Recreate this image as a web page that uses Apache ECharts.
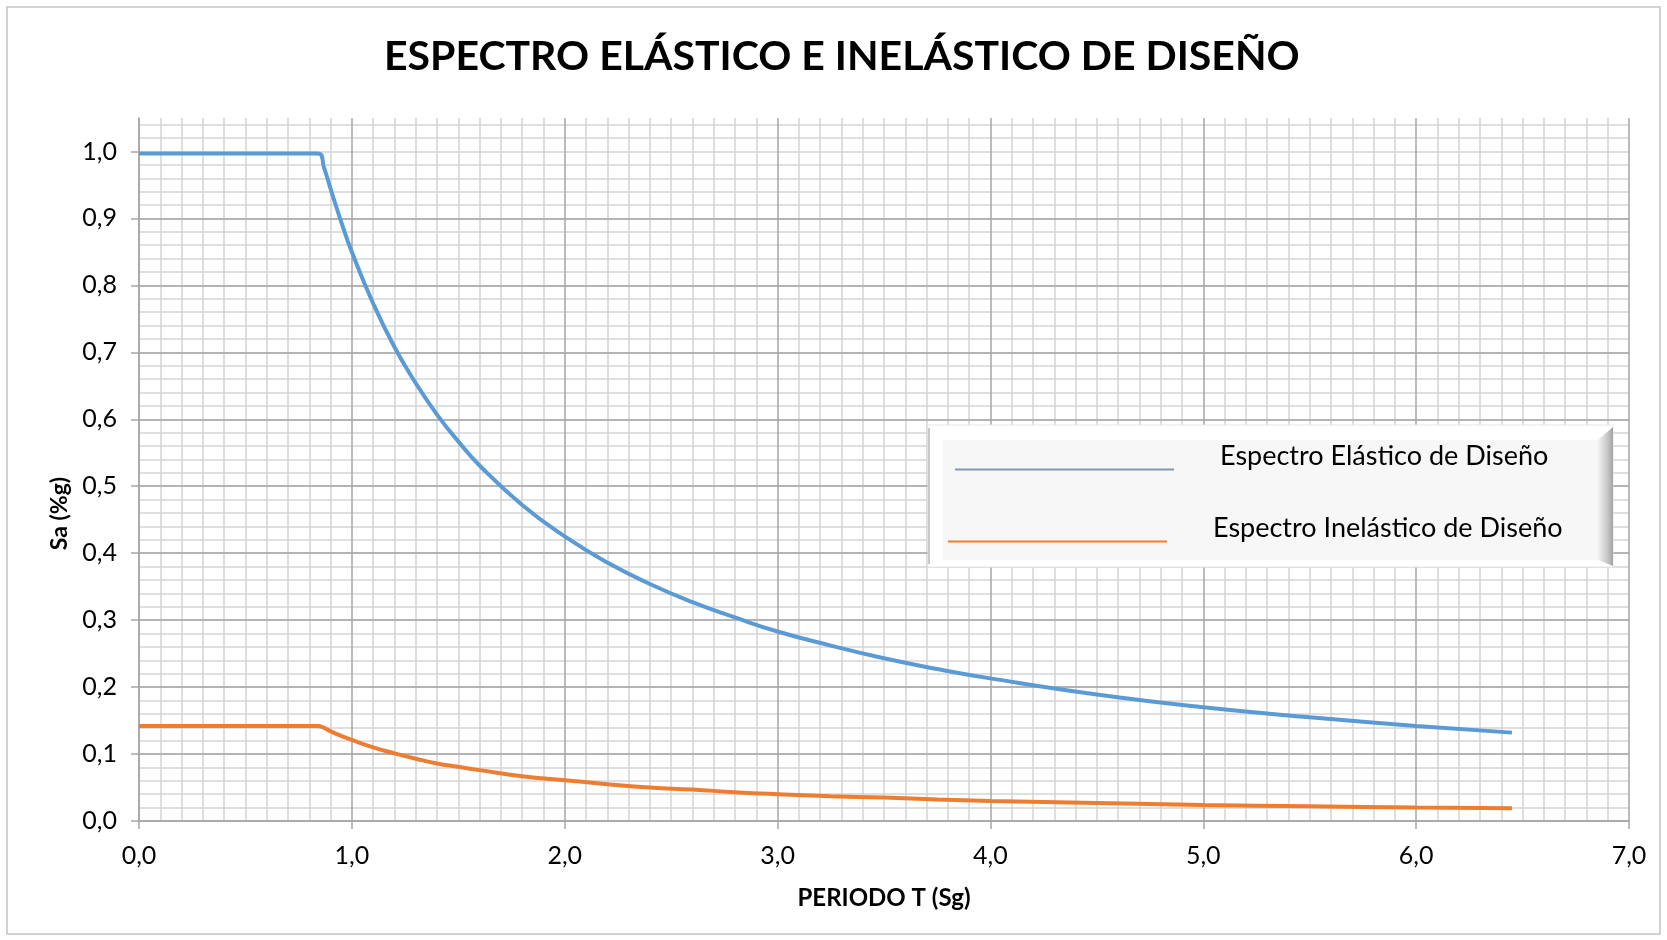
<!DOCTYPE html>
<html>
<head>
<meta charset="utf-8">
<title>Espectro elástico e inelástico de diseño</title>
<script src="https://cdn.jsdelivr.net/npm/echarts@6/dist/echarts.min.js"></script>
<style>
  html, body { margin: 0; padding: 0; background: #fff; }
  #chart { width: 1667px; height: 940px; }
</style>
</head>
<body>
<div id="chart"></div>
<script>
// valores: periodo T (s) y Sa (g)
var periodoT     = [0,     0.5,   0.84,  0.87,  0.9,   0.95,  1.0,   1.1,   1.2,   1.3,   1.4,   1.5,   1.6,   1.8,   2.0,   2.2,   2.4,   2.6,   2.8,   3.0,   3.25,  3.5,   3.75,  4.0,   4.5,   5.0,   5.5,   6.0,   6.45];
var saElastico   = [0.997, 0.997, 0.997, 0.975, 0.944, 0.895, 0.850, 0.773, 0.708, 0.654, 0.607, 0.567, 0.531, 0.472, 0.425, 0.386, 0.354, 0.327, 0.304, 0.283, 0.262, 0.243, 0.227, 0.213, 0.189, 0.170, 0.155, 0.142, 0.132];
var saInelastico = [0.142, 0.142, 0.142, 0.139, 0.134, 0.127, 0.121, 0.110, 0.101, 0.093, 0.086, 0.081, 0.076, 0.067, 0.061, 0.055, 0.050, 0.047, 0.043, 0.040, 0.037, 0.035, 0.032, 0.030, 0.027, 0.024, 0.022, 0.020, 0.019];

var xTicks = [0, 1, 2, 3, 4, 5, 6, 7];
var yTicks = [0, 0.1, 0.2, 0.3, 0.4, 0.5, 0.6, 0.7, 0.8, 0.9, 1.0];

var titulo = 'ESPECTRO ELÁSTICO E INELÁSTICO DE DISEÑO';
var nombreX = 'PERIODO T (Sg)';
var nombreY = 'Sa (%g)';
var nombres = ['Espectro Elástico de Diseño', 'Espectro Inelástico de Diseño'];

var fuente = 'Lato, "Open Sans", sans-serif';
var grisMayor = '#a6a6a6';
var grisMenor = '#d4d4d4';

function coma(v) {
  return v.toFixed(1).replace('.', ',');
}
function pares(ys) {
  return periodoT.map(function (t, i) { return [t, ys[i]]; });
}
// el texto de la leyenda va un poco por encima de su linea
function textoLeyenda(name) {
  return '{a|' + name + '}\n{b| }';
}
var richLeyenda = {
  a: { fontFamily: fuente, fontSize: 27, color: '#000', padding: [0, 0, 0, 41] },
  b: { fontSize: 2, height: 26 }
};

var chart = echarts.init(document.getElementById('chart'));
chart.setOption({
  animation: false,
  backgroundColor: '#fff',
  title: {
    text: titulo,
    left: 379,
    top: 31,
    textStyle: { fontFamily: fuente, fontSize: 41, fontWeight: 'bold', color: '#000' }
  },
  grid: { left: 139, right: 38, top: 118, bottom: 119 },
  legend: [
    {
      data: [{ name: nombres[0], icon: 'rect', itemStyle: { color: '#8497b0' } }],
      left: 955, top: 443, padding: 0, z: 10,
      itemWidth: 219, itemHeight: 2,
      formatter: textoLeyenda,
      textStyle: { rich: richLeyenda }
    },
    {
      data: [{ name: nombres[1], icon: 'rect', itemStyle: { color: '#ed7d31' } }],
      left: 948, top: 515, padding: 0, z: 10,
      itemWidth: 219, itemHeight: 2,
      formatter: textoLeyenda,
      textStyle: { rich: richLeyenda }
    }
  ],
  xAxis: {
    type: 'value',
    min: 0, max: 7, interval: 1,
    name: nombreX,
    nameLocation: 'middle',
    nameGap: 65,
    nameTextStyle: { fontFamily: fuente, fontSize: 24, fontWeight: 'bold', color: '#000' },
    z: 1,
    axisLine: { show: true, lineStyle: { color: grisMayor, width: 1.5 } },
    axisTick: { show: true, length: 8, customValues: xTicks, lineStyle: { color: grisMayor, width: 1.5 } },
    axisLabel: { customValues: xTicks, formatter: coma, margin: 22, fontFamily: fuente, fontSize: 25, color: '#000' },
    splitLine: { show: true, lineStyle: { color: grisMayor, width: 1.5 } },
    minorTick: { show: false, splitNumber: 10 },
    minorSplitLine: { show: true, lineStyle: { color: grisMenor, width: 1.5 } }
  },
  yAxis: [
    {
      type: 'value',
      min: 0, max: 1.05, interval: 0.1,
      name: nombreY,
      nameLocation: 'middle',
      nameGap: 68,
      nameTextStyle: { fontFamily: fuente, fontSize: 23, fontWeight: 'bold', color: '#000', padding: [0, 88, 0, 0] },
      z: 2,
      axisLine: { show: true, lineStyle: { color: grisMayor, width: 1.5 } },
      axisTick: { show: true, length: 8, customValues: yTicks, lineStyle: { color: grisMayor, width: 1.5 } },
      axisLabel: { customValues: yTicks, formatter: coma, margin: 22, fontFamily: fuente, fontSize: 25, color: '#000' },
      splitLine: { show: true, showMaxLine: false, lineStyle: { color: grisMayor, width: 1.5 } }
    },
    {
      // rejilla secundaria cada 0,02
      type: 'value',
      min: 0, max: 1.05, interval: 0.02,
      position: 'left',
      z: 0,
      axisLine: { show: false },
      axisTick: { show: false },
      axisLabel: { show: false },
      splitLine: { show: true, showMinLine: false, showMaxLine: false, lineStyle: { color: grisMenor, width: 1.5 } }
    }
  ],
  graphic: [
    {
      type: 'rect', z: 0, silent: true,
      shape: { x: 7, y: 7, width: 1653, height: 927 },
      style: { fill: 'none', stroke: '#c4c4c4', lineWidth: 1.5 }
    },
    // caja de la leyenda
    {
      type: 'rect', z: 5, silent: true,
      shape: { x: 928, y: 425, width: 685, height: 142 },
      style: { fill: '#fff', stroke: '#e6e6e6', lineWidth: 1 }
    },
    {
      type: 'line', z: 6, silent: true,
      shape: { x1: 929, y1: 428, x2: 929, y2: 564 },
      style: { stroke: '#c8c8c8', lineWidth: 2 }
    },
    {
      type: 'rect', z: 6, silent: true,
      shape: { x: 943, y: 440, width: 656, height: 120 },
      style: { fill: '#f7f7f7' }
    },
    {
      type: 'polygon', z: 6, silent: true,
      shape: { points: [[1598, 440], [1613, 427], [1613, 566], [1598, 560]] },
      style: {
        fill: new echarts.graphic.LinearGradient(0, 0, 1, 0, [
          { offset: 0, color: '#f2f2f2' },
          { offset: 0.6, color: '#c9c9c9' },
          { offset: 1, color: '#a3a3a3' }
        ])
      }
    }
  ],
  series: [
    {
      name: nombres[0],
      type: 'line',
      yAxisIndex: 0,
      data: pares(saElastico),
      smooth: true,
      symbol: 'none',
      z: 3,
      lineStyle: { color: '#5b9bd5', width: 4 },
      itemStyle: { color: '#5b9bd5' }
    },
    {
      name: nombres[1],
      type: 'line',
      yAxisIndex: 0,
      data: pares(saInelastico),
      smooth: true,
      symbol: 'none',
      z: 3,
      lineStyle: { color: '#ed7d31', width: 4 },
      itemStyle: { color: '#ed7d31' }
    }
  ]
});
</script>
</body>
</html>
